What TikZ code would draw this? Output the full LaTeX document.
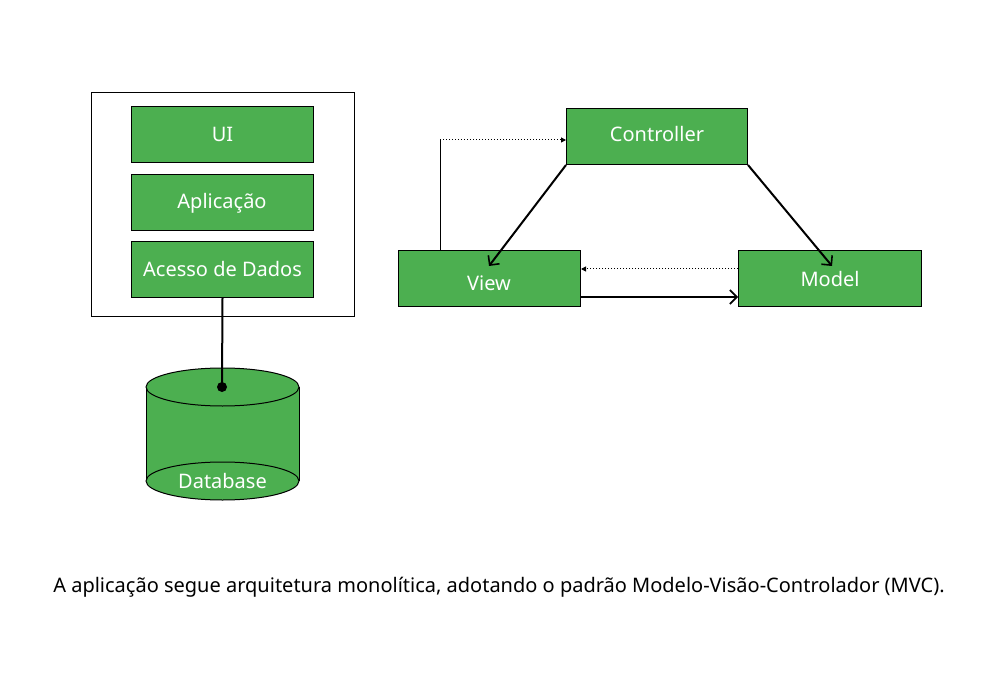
\documentclass[tikz,border=0pt]{standalone}
\usepackage{fontspec}
\setmainfont{Noto Sans}
\usetikzlibrary{arrows.meta}
\definecolor{boxgreen}{HTML}{4CAF50}
\tikzset{
  gfont/.style={font=\fontsize{20}{22}\selectfont},
  gbox/.style={draw=black, fill=boxgreen, line width=1pt, text=white, gfont, inner sep=0pt, anchor=north west},
  mainarrow/.style={draw=black, line width=2pt, -{Straight Barb[length=7pt,width=14pt,line width=1.6pt]}},
  dotarrow/.style={draw=black, line width=1pt, dotted, -{Triangle[length=5pt,width=5pt]}},
  thinline/.style={draw=black, line width=1pt},
}
\begin{document}
\begin{tikzpicture}[x=1pt,y=-1pt]
\useasboundingbox (0,0) rectangle (1000,700);
% outer frame
\node[draw=black, line width=1pt, minimum width=263pt, minimum height=224pt, inner sep=0pt, anchor=north west] (frame) at (91,92) {};
\node[gbox, minimum width=182pt, minimum height=56pt] (ui) at (131,106) {UI};
\node[gbox, minimum width=182pt, minimum height=56pt] (app) at (131,174) {};
\node[text=white, gfont] (applbl) at (222,203) {Aplica\c{c}\~ao};
\node[gbox, minimum width=182pt, minimum height=56pt] (dados) at (131,241) {Acesso de Dados};
% database cylinder
\fill[boxgreen] (146,387) -- (146,481) arc[start angle=180, end angle=360, x radius=76.5, y radius=19] -- (299,387) -- cycle;
\draw[line width=1pt] (146,387) -- (146,481);
\draw[line width=1pt] (299,387) -- (299,481);
\draw[line width=1pt, fill=boxgreen] (222.5,481) ellipse[x radius=76.5, y radius=19];
\draw[line width=1pt, fill=boxgreen] (222.5,387) ellipse[x radius=76.5, y radius=19];
\node[text=white, gfont] (db) at (222.5,481) {Database};
\coordinate (dbtop) at (222,387);
\draw[line width=2pt] (dados.south) -- (dbtop);
\fill (dbtop) circle[radius=5];
% MVC
\node[gbox, minimum width=181pt, minimum height=56pt] (ctrl) at (566,108) {};
\node[text=white, gfont] (ctrllbl) at (657,134) {Controller};
\node[gbox, minimum width=182pt, minimum height=56pt] (view) at (398,250) {};
\node[text=white, gfont] (viewlbl) at (489,283) {View};
\node[gbox, minimum width=183pt, minimum height=56pt] (model) at (738,250) {};
\node[text=white, gfont] (modellbl) at (830,279) {Model};
\coordinate (vtip) at (489,266);
\coordinate (mtip) at (832,266);
\draw[mainarrow] (ctrl.south west) -- (vtip);
\draw[mainarrow] (ctrl.south east) -- (mtip);
\draw[mainarrow] (view.south east |- 0,297) -- (model.west |- 0,297);
\draw[dotarrow] (model.west |- 0,269) -- (view.east |- 0,269);
\coordinate (corner) at (440,140);
\draw[thinline] (view.north west -| 440,0) -- (corner);
\draw[dotarrow] (corner) -- (ctrl.west |- corner);
% caption
\node[gfont] (cap) at (499,587) {A aplica\c{c}\~ao segue arquitetura monol\'itica, adotando o padr\~ao Modelo-Vis\~ao-Controlador (MVC).};
\end{tikzpicture}
\end{document}
